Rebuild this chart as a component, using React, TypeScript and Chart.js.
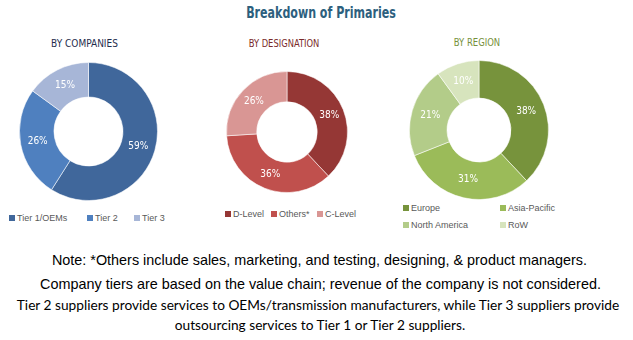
import React, { useEffect, useRef } from "react";
import { Chart, registerables } from "chart.js";

Chart.register(...registerables);

const companyLabels = ["Tier 1/OEMs", "Tier 2", "Tier 3"];
const companyValues = [59, 26, 15];
const companyColors = ["#40679b", "#4f80bf", "#a7b6d7"];

const designationLabels = ["D-Level", "Others*", "C-Level"];
const designationValues = [38, 36, 26];
const designationColors = ["#953735", "#c0504d", "#d99694"];

const regionLabels = ["Europe", "Asia-Pacific", "North America", "RoW"];
const regionValues = [38, 31, 21, 10];
const regionColors = ["#77933c", "#9bbb59", "#b3cc89", "#d7e4bd"];

const noteLines = [
  "Note: *Others include sales, marketing, and testing, designing, & product managers.",
  "Company tiers are based on the value chain; revenue of the company is not considered.",
  "Tier 2 suppliers provide services to OEMs/transmission manufacturers, while Tier 3 suppliers provide",
  "outsourcing services to Tier 1 or Tier 2 suppliers.",
];

const NARROW = '"Liberation Sans Narrow", "DejaVu Sans Condensed", "Arial Narrow", sans-serif';
const SANS = '"Liberation Sans", Arial, sans-serif';

const pctPlugin = {
  id: "pctLabels",
  afterDatasetsDraw(chart: any) {
    const ctx = chart.ctx;
    const meta = chart.getDatasetMeta(0);
    const data = chart.data.datasets[0].data;
    ctx.save();
    ctx.fillStyle = "#ffffff";
    ctx.font = "10px " + NARROW;
    ctx.textAlign = "center";
    ctx.textBaseline = "middle";
    meta.data.forEach((arc: any, i: number) => {
      const p = arc.tooltipPosition();
      ctx.fillText(data[i] + "%", p.x, p.y);
    });
    ctx.restore();
  },
};

function Donut(props: {
  labels: string[];
  values: number[];
  colors: string[];
  size: number;
  left: number;
  top: number;
  cutout: string;
}) {
  const ref = useRef<HTMLCanvasElement>(null);
  useEffect(() => {
    if (!ref.current) return;
    const chart = new Chart(ref.current, {
      type: "doughnut",
      data: {
        labels: props.labels,
        datasets: [
          {
            data: props.values,
            backgroundColor: props.colors,
            borderColor: "rgba(255,255,255,0.55)",
            borderWidth: 1,
          },
        ],
      },
      options: {
        responsive: false,
        animation: false,
        cutout: props.cutout,
        layout: { padding: 0 },
        plugins: { legend: { display: false }, tooltip: { enabled: false } },
      } as any,
      plugins: [pctPlugin],
    });
    return () => chart.destroy();
  }, []);
  return (
    <canvas
      ref={ref}
      width={props.size}
      height={props.size}
      style={{ position: "absolute", left: props.left, top: props.top, width: props.size, height: props.size }}
    />
  );
}

function Text(props: { x: number; y: number; children: any; style?: any; align?: string; sx?: number }) {
  const tx = props.align === "left" ? "0" : "-50%";
  const sx = props.sx ?? 1;
  return (
    <div
      style={{
        position: "absolute",
        left: props.x,
        top: props.y,
        transform: `translate(${tx}, -50%) scaleX(${sx})`,
        transformOrigin: props.align === "left" ? "left center" : "center center",
        whiteSpace: "nowrap",
        lineHeight: 1,
        ...props.style,
      }}
    >
      {props.children}
    </div>
  );
}

function LegendItem(props: { x: number; y: number; color: string; label: string }) {
  return (
    <>
      <div
        style={{
          position: "absolute",
          left: props.x,
          top: props.y - 3,
          width: 6,
          height: 6,
          background: props.color,
        }}
      />
      <Text x={props.x + 8} y={props.y} align="left" style={{ font: "9px " + SANS, color: "#595959" }}>
        {props.label}
      </Text>
    </>
  );
}

export default function App() {
  const subStyle = { font: "10px " + NARROW };
  const noteA = { font: "14.4px " + SANS, color: "#000" };
  const noteB = { font: "13.7px Lato, sans-serif", color: "#000" };
  return (
    <div
      style={{
        position: "absolute",
        left: 0,
        top: 0,
        width: 633,
        height: 340,
        background: "#ffffff",
        overflow: "hidden",
      }}
    >
      <Text x={321} y={13} sx={0.82} style={{ font: "bold 15px " + NARROW, color: "#2d5f7e" }}>
        Breakdown of Primaries
      </Text>
      <Text x={84.5} y={43} style={{ ...subStyle, color: "#1f2d4d" }}>BY COMPANIES</Text>
      <Text x={283.5} y={43} sx={0.93} style={{ ...subStyle, color: "#7a2a2a" }}>BY DESIGNATION</Text>
      <Text x={477} y={42} sx={0.94} style={{ ...subStyle, color: "#76903c" }}>BY REGION</Text>

      <Donut labels={companyLabels} values={companyValues} colors={companyColors} size={139} left={18.5} top={62} cutout="50%" />
      <Donut labels={designationLabels} values={designationValues} colors={designationColors} size={122} left={225.5} top={70.5} cutout="50%" />
      <Donut labels={regionLabels} values={regionValues} colors={regionColors} size={140} left={408.5} top={60} cutout="46%" />

      <LegendItem x={9} y={218} color={companyColors[0]} label={companyLabels[0]} />
      <LegendItem x={87} y={218} color={companyColors[1]} label={companyLabels[1]} />
      <LegendItem x={134} y={218} color={companyColors[2]} label={companyLabels[2]} />

      <LegendItem x={225} y={214} color={designationColors[0]} label={designationLabels[0]} />
      <LegendItem x={271} y={214} color={designationColors[1]} label={designationLabels[1]} />
      <LegendItem x={317} y={214} color={designationColors[2]} label={designationLabels[2]} />

      <LegendItem x={403} y={208} color={regionColors[0]} label={regionLabels[0]} />
      <LegendItem x={500} y={208} color={regionColors[1]} label={regionLabels[1]} />
      <LegendItem x={403} y={225} color={regionColors[2]} label={regionLabels[2]} />
      <LegendItem x={500} y={225} color={regionColors[3]} label={regionLabels[3]} />

      <Text x={319.5} y={260} style={noteA}>{noteLines[0]}</Text>
      <Text x={320.5} y={284} style={noteA}>{noteLines[1]}</Text>
      <Text x={318} y={304} style={noteB}>{noteLines[2]}</Text>
      <Text x={320} y={324} style={noteB}>{noteLines[3]}</Text>
    </div>
  );
}
